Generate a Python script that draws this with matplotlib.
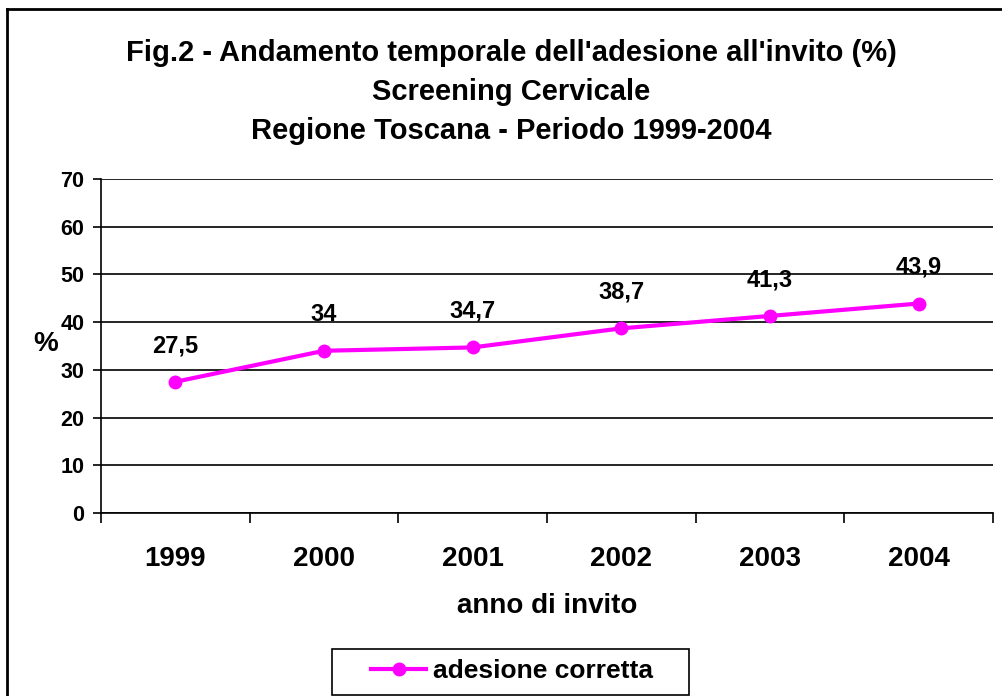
import matplotlib.pyplot as plt
from matplotlib.lines import Line2D
from matplotlib.patches import Rectangle

plt.rcParams['font.family'] = ['Liberation Sans', 'DejaVu Sans']
plt.rcParams['font.weight'] = 'bold'

# dati
anni = ['1999', '2000', '2001', '2002', '2003', '2004']
adesione = [27.5, 34, 34.7, 38.7, 41.3, 43.9]
etichette = ['27,5', '34', '34,7', '38,7', '41,3', '43,9']

fig = plt.figure(figsize=(10.02, 6.96), dpi=100)
W, H = 1002, 696
ax = fig.add_axes([101 / W, 1 - 513 / H, (993 - 101) / W, (513 - 179) / H])

x = list(range(len(anni)))
ax.plot(x, adesione, color='#FF00FF', lw=3, marker='o', ms=9, label='adesione corretta')

for i in range(len(x)):
    ax.annotate(etichette[i], (x[i], adesione[i]), xytext=(0, 26), textcoords='offset points',
                ha='center', va='center', fontsize=17, fontweight='bold')

ax.set_xlim(-0.5, len(anni) - 0.5)
ax.set_ylim(0, 70)
ax.set_yticks(range(0, 71, 10))
ax.set_yticklabels([str(v) for v in range(0, 71, 10)], fontsize=15.5, fontweight='bold')
ax.grid(axis='y', color='black', lw=1.2)
ax.set_axisbelow(True)

# tacche tra le categorie
ax.set_xticks([i - 0.5 for i in range(len(anni) + 1)])
ax.set_xticklabels([])
ax.set_xticks(x, minor=True)
ax.set_xticklabels(anni, minor=True, fontsize=20, fontweight='bold')
ax.tick_params(axis='x', which='major', length=7, width=1.2, direction='out')
ax.tick_params(axis='x', which='minor', length=0, pad=24)
ax.tick_params(axis='y', length=6, width=1.2, pad=6)

for s in ['top', 'right']:
    ax.spines[s].set_visible(False)
ax.spines['left'].set_linewidth(1.2)
ax.spines['bottom'].set_linewidth(1.2)

ax.set_xlabel('anno di invito', fontsize=20, fontweight='bold', labelpad=15)
ax.set_ylabel('%', fontsize=20, fontweight='bold', rotation=0, va='center', ha='center')
ax.yaxis.set_label_coords(-0.062, 0.505)

fig.text(511 / W, 1 - 92 / H,
         "Fig.2 - Andamento temporale dell'adesione all'invito (%)\nScreening Cervicale\nRegione Toscana - Periodo 1999-2004",
         ha='center', va='center', fontsize=21, fontweight='bold', linespacing=1.5)

leg = fig.legend(loc='center', bbox_to_anchor=(512 / W, 1 - 671 / H),
                 frameon=False, handlelength=2.1, handletextpad=0.25,
                 prop={'weight': 'bold', 'size': 19})
fig.add_artist(Rectangle((332 / W, 1 - 695 / H), (689 - 332) / W, (695 - 649) / H,
                         fill=False, edgecolor='black', lw=1.2, transform=fig.transFigure))

# bordo della figura
fig.add_artist(Line2D([7 / W, 7 / W], [0, 1 - 9 / H], color='black', lw=2, transform=fig.transFigure))
fig.add_artist(Line2D([7 / W, 1], [1 - 9 / H, 1 - 9 / H], color='black', lw=2, transform=fig.transFigure))

fig.savefig('out.png', dpi=100)
